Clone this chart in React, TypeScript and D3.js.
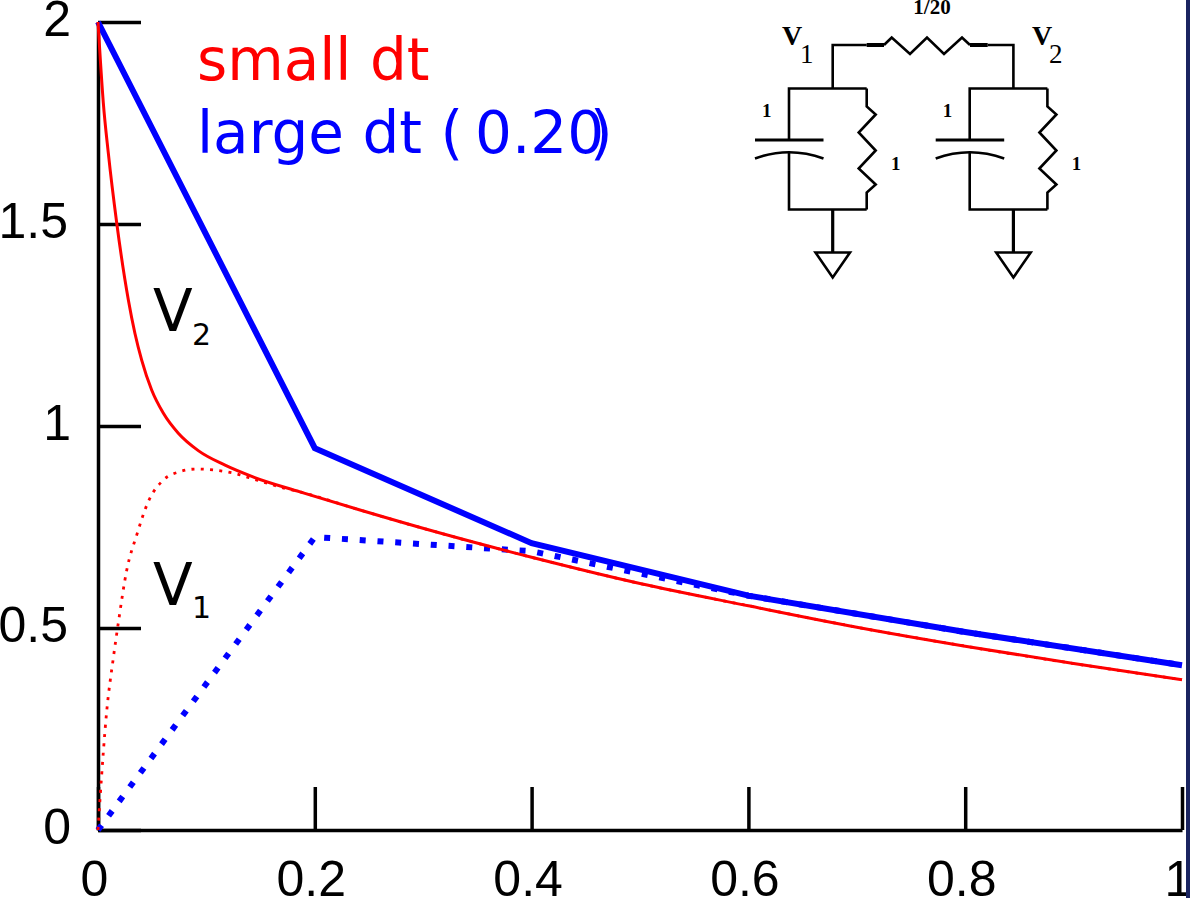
import React, { useRef, useEffect } from "react";
import * as d3 from "d3";

const xTicks = [0, 0.2, 0.4, 0.6, 0.8, 1];
const yTicks = [0, 0.5, 1, 1.5, 2];

// small dt
const smallT2 = [0, 0.0049, 0.0095, 0.0173, 0.028, 0.0341, 0.0403, 0.0495, 0.0602, 0.0741, 0.0925, 0.1172, 0.143, 0.1863, 0.2417, 0.3155, 0.4, 0.5, 0.6, 0.7, 0.8, 0.9, 1];
const smallV2 = [2, 1.8, 1.676, 1.502, 1.312, 1.229, 1.163, 1.089, 1.032, 0.982, 0.939, 0.903, 0.874, 0.837, 0.792, 0.735, 0.675, 0.61, 0.555, 0.502, 0.455, 0.412, 0.372];
const smallT1 = [0, 0.0018, 0.008, 0.0141, 0.0187, 0.0265, 0.0357, 0.0464, 0.0602, 0.0756, 0.091, 0.1236, 0.1467, 0.1707, 0.1863, 0.2417, 0.3155, 0.4, 0.5, 0.6, 0.7, 0.8, 0.9, 1];
const smallV1 = [0, 0.074, 0.293, 0.425, 0.512, 0.643, 0.73, 0.813, 0.866, 0.887, 0.8936, 0.884, 0.866, 0.847, 0.837, 0.792, 0.735, 0.675, 0.61, 0.555, 0.502, 0.455, 0.412, 0.372];

// large dt (0.20)
const largeT = [0, 0.2, 0.4, 0.6, 0.8, 1];
const largeV2 = [2, 0.945, 0.71, 0.58, 0.49, 0.408];
const largeV1 = [0, 0.725, 0.69, 0.58, 0.49, 0.408];

const width = 1190;
const height = 898;

const x = d3.scaleLinear().domain([0, 1]).range([98, 1182]);
const y = d3.scaleLinear().domain([0, 2]).range([830, 22]);

const App: React.FC = () => {
  const xAxisRef = useRef<SVGGElement | null>(null);
  const yAxisRef = useRef<SVGGElement | null>(null);

  useEffect(() => {
    const xAxis = d3.select(xAxisRef.current);
    xAxis.selectAll("*").remove();
    xAxis.call(d3.axisBottom(x).tickValues(xTicks).tickFormat((d) => String(d)).tickSize(-43).tickSizeOuter(0) as any);
    xAxis.selectAll("path, line").attr("stroke", "#000").attr("stroke-width", 3.5);
    xAxis
      .selectAll("text")
      .attr("y", 0)
      .attr("dy", 66)
      .attr("dx", -4)
      .attr("font-size", 50)
      .attr("font-family", "'Liberation Sans', sans-serif")
      .attr("fill", "#000");

    const yAxis = d3.select(yAxisRef.current);
    yAxis.selectAll("*").remove();
    yAxis.call(d3.axisLeft(y).tickValues(yTicks).tickFormat((d) => String(d)).tickSize(-43).tickSizeOuter(0) as any);
    yAxis.selectAll("path, line").attr("stroke", "#000").attr("stroke-width", 3.5);
    yAxis
      .selectAll("text")
      .attr("x", (d: any) => (Number.isInteger(d) ? -27 : -30))
      .attr("dy", 13)
      .attr("font-size", 50)
      .attr("font-family", "'Liberation Sans', sans-serif")
      .attr("fill", "#000");
  }, []);

  const line = (ts: number[], vs: number[], curve: d3.CurveFactory = d3.curveLinear) =>
    d3
      .line<number>()
      .x((t) => x(t))
      .y((_, i) => y(vs[i]))
      .curve(curve)(ts) as string;

  const labelFont = "'DejaVu Sans', sans-serif";
  const serif = "'Liberation Serif', serif";

  const resistorV = "M0 0V18L9 26L-8 44L9 62L-8 80L9 96L0 104V121";
  const branch = (dx: number, key: string) => (
    <g key={key} transform={`translate(${dx},0)`} fill="none" stroke="#000" strokeWidth={2.6}>
      <path d="M866.7 88.5H789V140M789 152V209.5H866.7" />
      <path d="M755 140H823.5" strokeWidth={3.2} />
      <path d="M755 158.5Q789 146 823.5 158.5" strokeWidth={2.6} />
      <path d={resistorV} transform="translate(866.7,88.5)" />
      <path d="M832.7 209.5V252.5" strokeWidth={3.2} />
      <path d="M815.5 252.5H850L832.7 277.5Z" />
      <text x={762} y={117} fontFamily={serif} fontWeight="bold" fontSize={19} fill="#000" stroke="none">1</text>
      <text x={891} y={170} fontFamily={serif} fontWeight="bold" fontSize={19} fill="#000" stroke="none">1</text>
    </g>
  );

  return (
    <svg width={width} height={height} style={{ position: "fixed", left: 0, top: 0, background: "#fff" }}>
      <g ref={xAxisRef} transform={`translate(0,${y(0)})`} />
      <g ref={yAxisRef} transform={`translate(${x(0)},0)`} />

      <path d={line(largeT, largeV1)} fill="none" stroke="#0000ff" strokeWidth={6} strokeDasharray="6 11.8" />
      <path d={line(largeT, largeV2)} fill="none" stroke="#0000ff" strokeWidth={6} />
      <path d={line(smallT1, smallV1, d3.curveMonotoneX)} fill="none" stroke="#ff0000" strokeWidth={2.8} strokeDasharray="3 6.3" />
      <path d={line(smallT2, smallV2, d3.curveMonotoneX)} fill="none" stroke="#ff0000" strokeWidth={3} />

      <text x={197} y={80} fontFamily={labelFont} fontSize={58} fill="#ff0000">small dt</text>
      <text x={197} y={153} fontFamily={labelFont} fontSize={58} fill="#0000ff">large dt (</text>
      <text x={475} y={153} fontFamily={labelFont} fontSize={58} fill="#0000ff">0.20</text>
      <text x={590} y={153} fontFamily={labelFont} fontSize={58} fill="#0000ff">)</text>

      <text x={153} y={331} fontFamily={labelFont} fontSize={58} fill="#000">V</text>
      <text x={192} y={345} fontFamily={labelFont} fontSize={30} fill="#000">2</text>
      <text x={153} y={605} fontFamily={labelFont} fontSize={58} fill="#000">V</text>
      <text x={192} y={618} fontFamily={labelFont} fontSize={30} fill="#000">1</text>

      {branch(0, "left")}
      {branch(180.7, "right")}
      <g fill="none" stroke="#000" strokeWidth={2.6}>
        <path d="M832.7 88.5V45H866.7M987.7 45H1013.4V88.5" />
        <path d="M866.7 45H884" strokeWidth={4} />
        <path d="M970 45H987.7" strokeWidth={4} />
        <path d="M884 45L891.7 37.5L910 54L927 37.5L944 54L962 37.5L970 45" />
      </g>
      <text x={932} y={14} textAnchor="middle" fontFamily={serif} fontWeight="bold" fontSize={21}>1/20</text>
      <text x={782} y={45} fontFamily={serif} fontWeight="bold" fontSize={28}>V</text>
      <text x={800} y={63} fontFamily={serif} fontSize={27}>1</text>
      <text x={1032} y={45} fontFamily={serif} fontWeight="bold" fontSize={28}>V</text>
      <text x={1049} y={63} fontFamily={serif} fontSize={27}>2</text>

      <rect x={1186} y={0} width={4} height={height} fill="#1a2460" />
    </svg>
  );
};

export default App;
